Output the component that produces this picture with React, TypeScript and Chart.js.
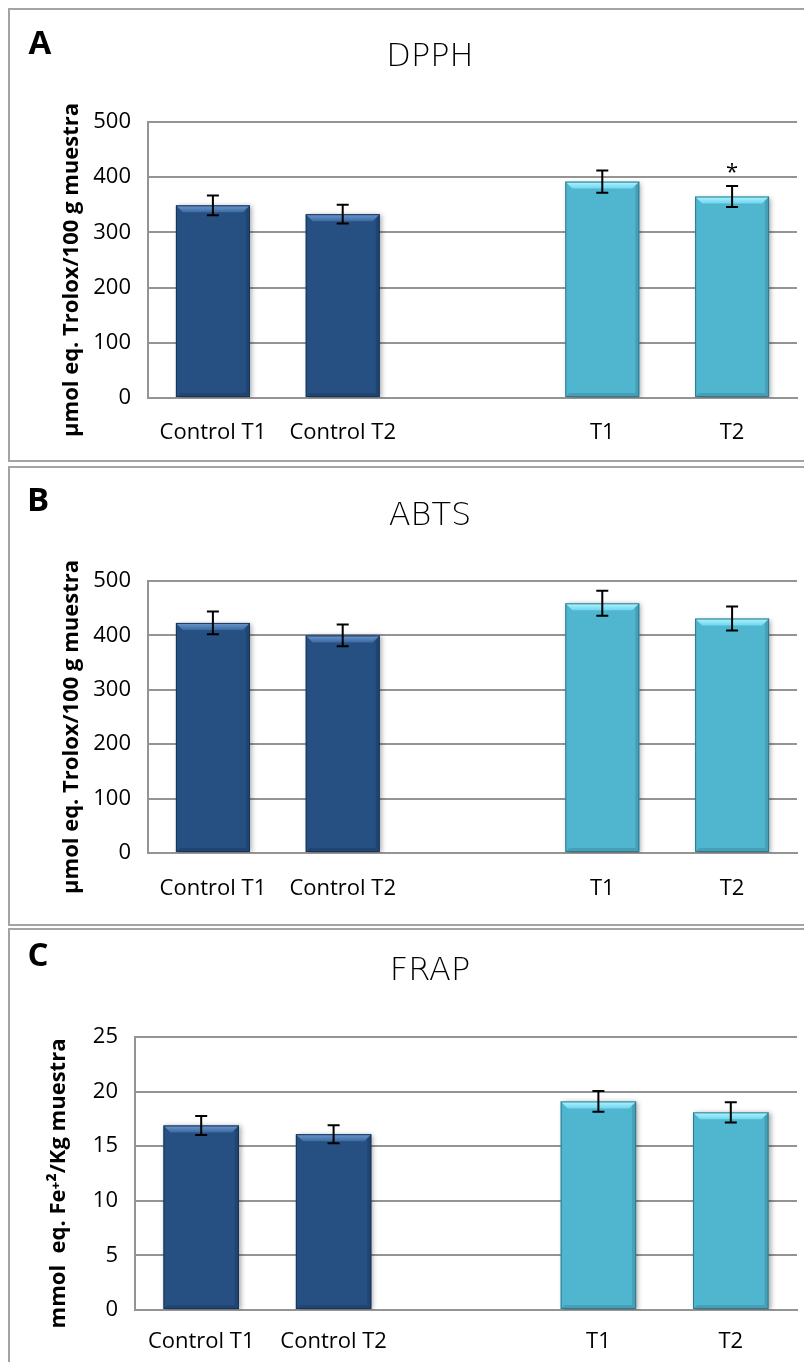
import React, { useEffect, useRef } from "react";
import { Chart, registerables } from "chart.js";
Chart.register(...registerables);

// ---------- data ----------
const categories = ["Control T1", "Control T2", "", "T1", "T2"];

const dpphValues = [349, 333, null, 392, 365];
const dpphErrors = [18, 17, null, 20, 19];
const dpphMarks = ["", "", "", "", "*"];

const abtsValues = [423, 400, null, 459, 431];
const abtsErrors = [21, 20, null, 23, 22];
const abtsMarks = ["", "", "", "", ""];

const frapValues = [16.9, 16.1, null, 19.1, 18.1];
const frapErrors = [0.87, 0.82, null, 0.95, 0.92];
const frapMarks = ["", "", "", "", ""];

const troloxTicks = [0, 100, 200, 300, 400, 500];
const frapTicks = [0, 5, 10, 15, 20, 25];

// ---------- styles ----------
const DARK = "#264f82";
const CYAN = "#50b6d0";
const barColors = [DARK, DARK, DARK, CYAN, CYAN];
const bevelTop = ["#6a98d0", "#6a98d0", "#6a98d0", "#b2f4ff", "#b2f4ff"];
const bevelBottom = ["#3d6aa0", "#3d6aa0", "#3d6aa0", "#6fd6ee", "#6fd6ee"];
const outline = ["#16345a", "#16345a", "#16345a", "#2b7a8e", "#2b7a8e"];
const GRID = "#949494";
const LABEL_FONT = "Open Sans";

type Panel = {
  letter: string;
  title: string;
  yTitle: string;
  values: (number | null)[];
  errors: (number | null)[];
  marks: string[];
  ticks: number[];
  height: number;
  borderBottom: boolean;
  marginBottom: number;
  plotLeft: number;
  plotTop: number;
  xAxisHeight: number;
  labelPad: number;
  letterPos: [number, number];
  titlePos: [number, number];
  yTitleX: number;
};

const panels: Panel[] = [
  {
    letter: "A",
    title: "DPPH",
    yTitle: "μmol eq. Trolox/100 g muestra",
    values: dpphValues,
    errors: dpphErrors,
    marks: dpphMarks,
    ticks: troloxTicks,
    height: 454,
    borderBottom: true,
    marginBottom: 4,
    plotLeft: 138,
    plotTop: 112,
    xAxisHeight: 62,
    labelPad: 22,
    letterPos: [30, 35],
    titlePos: [420, 48],
    yTitleX: 62,
  },
  {
    letter: "B",
    title: "ABTS",
    yTitle: "μmol eq. Trolox/100 g muestra",
    values: abtsValues,
    errors: abtsErrors,
    marks: abtsMarks,
    ticks: troloxTicks,
    height: 460,
    borderBottom: true,
    marginBottom: 2,
    plotLeft: 138,
    plotTop: 113,
    xAxisHeight: 71,
    labelPad: 23,
    letterPos: [28, 34],
    titlePos: [420, 49],
    yTitleX: 62,
  },
  {
    letter: "C",
    title: "FRAP",
    yTitle: "mmol  eq. Fe⁺²/Kg muestra",
    values: frapValues,
    errors: frapErrors,
    marks: frapMarks,
    ticks: frapTicks,
    height: 434,
    borderBottom: false,
    marginBottom: 0,
    plotLeft: 125,
    plotTop: 107,
    xAxisHeight: 52,
    labelPad: 19,
    letterPos: [28, 27],
    titlePos: [420, 42],
    yTitleX: 49,
  },
];

const CANVAS_W = 802;

function PanelChart({ p }: { p: Panel }) {
  const ref = useRef<HTMLCanvasElement | null>(null);
  const canvasH = p.height - 2 - (p.borderBottom ? 2 : 0);

  useEffect(() => {
    if (!ref.current) return;
    const deco = {
      id: "deco",
      beforeDatasetsDraw(chart: any) {
        const ctx = chart.ctx;
        ctx.save();
        ctx.shadowColor = "rgba(0,0,0,0.35)";
        ctx.shadowBlur = 5;
        ctx.shadowOffsetX = 2;
        ctx.shadowOffsetY = 1;
      },
      afterDatasetsDraw(chart: any) {
        const ctx = chart.ctx;
        ctx.restore();
        const meta = chart.getDatasetMeta(0);
        const yScale = chart.scales.y;
        meta.data.forEach((el: any, i: number) => {
          const v = p.values[i];
          if (v === null || v === undefined) return;
          const { x, y, base, width } = el.getProps(["x", "y", "base", "width"], true);
          const l = x - width / 2;
          const r = x + width / 2;
          const b = 7;
          ctx.save();
          const g = ctx.createLinearGradient(0, y, 0, y + b);
          g.addColorStop(0, bevelTop[i]);
          g.addColorStop(1, bevelBottom[i]);
          ctx.fillStyle = g;
          ctx.beginPath();
          ctx.moveTo(l, y);
          ctx.lineTo(r, y);
          ctx.lineTo(r - b, y + b);
          ctx.lineTo(l + b, y + b);
          ctx.closePath();
          ctx.fill();
          ctx.fillStyle = "rgba(0,0,0,0.12)";
          ctx.beginPath();
          ctx.moveTo(r, y);
          ctx.lineTo(r, base);
          ctx.lineTo(r - 4, base - 4);
          ctx.lineTo(r - 4, y + 4);
          ctx.closePath();
          ctx.fill();
          ctx.beginPath();
          ctx.moveTo(l, base);
          ctx.lineTo(r, base);
          ctx.lineTo(r - 4, base - 4);
          ctx.lineTo(l + 4, base - 4);
          ctx.closePath();
          ctx.fill();
          ctx.strokeStyle = outline[i];
          ctx.lineWidth = 1;
          ctx.strokeRect(l + 0.5, y + 0.5, width - 1, base - y - 1);
          ctx.restore();

          const e = p.errors[i];
          if (e !== null && e !== undefined) {
            const yt = yScale.getPixelForValue(v + e);
            const yb = yScale.getPixelForValue(v - e);
            ctx.save();
            ctx.strokeStyle = "#000";
            ctx.lineWidth = 2;
            ctx.beginPath();
            ctx.moveTo(x, yt);
            ctx.lineTo(x, yb);
            ctx.moveTo(x - 6, yt);
            ctx.lineTo(x + 6, yt);
            ctx.moveTo(x - 6, yb);
            ctx.lineTo(x + 6, yb);
            ctx.stroke();
            ctx.restore();
            const m = p.marks[i];
            if (m) {
              ctx.save();
              ctx.fillStyle = "#000";
              ctx.font = `22px "${LABEL_FONT}"`;
              ctx.textAlign = "center";
              ctx.textBaseline = "alphabetic";
              ctx.fillText(m, x, yt - 7);
              ctx.restore();
            }
          }
        });
      },
      afterDraw(chart: any) {
        const ctx = chart.ctx;
        const area = chart.chartArea;
        ctx.save();
        ctx.fillStyle = "#000";
        ctx.textAlign = "center";
        ctx.textBaseline = "middle";
        ctx.font = `bold 33px "${LABEL_FONT}"`;
        ctx.fillText(p.letter, p.letterPos[0], p.letterPos[1]);
        ctx.font = `300 32px "DejaVu Sans"`;
        ctx.fillText(p.title, p.titlePos[0], p.titlePos[1]);
        ctx.translate(p.yTitleX, (area.top + area.bottom) / 2 + 10);
        ctx.rotate(-Math.PI / 2);
        ctx.font = `bold 22px "${LABEL_FONT}"`;
        ctx.fillText(p.yTitle, 0, 0);
        ctx.restore();
      },
    };

    const chart = new Chart(ref.current, {
      type: "bar",
      data: {
        labels: categories,
        datasets: [
          {
            data: p.values as any,
            backgroundColor: barColors,
            borderWidth: 0,
            barPercentage: 0.57,
            categoryPercentage: 1,
          },
        ],
      },
      options: {
        responsive: false,
        animation: false,
        devicePixelRatio: 1,
        layout: { padding: { top: p.plotTop, left: 0, right: 15, bottom: 0 } },
        plugins: {
          legend: { display: false },
          tooltip: { enabled: false },
          title: { display: false },
        },
        scales: {
          x: {
            type: "category",
            offset: true,
            grid: { display: false, drawTicks: false },
            border: { display: true, color: GRID, width: 2 },
            ticks: {
              color: "#000",
              font: { family: LABEL_FONT, size: 22 },
              padding: p.labelPad,
              maxRotation: 0,
              autoSkip: false,
            },
            afterFit: (s: any) => {
              s.height = p.xAxisHeight;
            },
          },
          y: {
            min: p.ticks[0],
            max: p.ticks[p.ticks.length - 1],
            ticks: {
              stepSize: p.ticks[1] - p.ticks[0],
              color: "#000",
              font: { family: LABEL_FONT, size: 22 },
              padding: 17,
            },
            grid: { color: GRID, lineWidth: 2, drawTicks: false },
            border: { display: true, color: GRID, width: 2 },
            afterFit: (s: any) => {
              s.width = p.plotLeft;
            },
          },
        },
      },
      plugins: [deco],
    });
    return () => chart.destroy();
  }, []);

  return (
    <div
      style={{
        width: 804,
        height: p.height,
        boxSizing: "border-box",
        borderLeft: "2px solid #a3a3a3",
        borderTop: "2px solid #a3a3a3",
        borderBottom: p.borderBottom ? "2px solid #a3a3a3" : "none",
        marginBottom: p.marginBottom,
        background: "#fff",
      }}
    >
      <canvas ref={ref} width={CANVAS_W} height={canvasH} style={{ display: "block" }} />
    </div>
  );
}

export default function App() {
  useEffect(() => {
    document.body.style.overflow = "hidden";
  }, []);
  return (
    <div>
      {panels.map((p) => (
        <PanelChart key={p.letter} p={p} />
      ))}
    </div>
  );
}
